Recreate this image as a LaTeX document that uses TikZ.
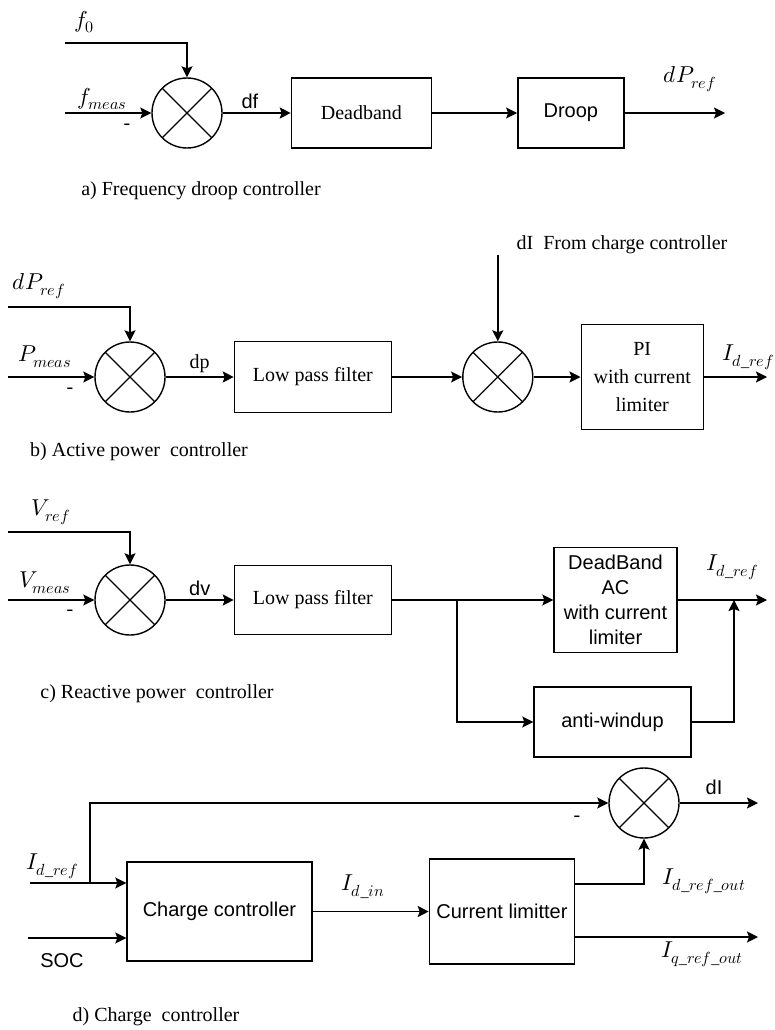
\documentclass[tikz,border=0pt]{standalone}
\usepackage{fontspec}
\usepackage{unicode-math}
\setmainfont{Liberation Serif}
\setsansfont{Liberation Sans}
\setmathfont{Latin Modern Math}
\usetikzlibrary{positioning,arrows.meta,calc}

\begin{document}
\begin{tikzpicture}[x=1pt, y=-1pt, line width=1.4pt,
    every node/.style={font=\fontsize{20}{26}\selectfont, align=center},
    box/.style={draw, minimum height=70pt, minimum width=140pt, inner sep=2pt},
    sfbox/.style={box, font=\fontsize{20}{25}\selectfont\sffamily},
    sflbl/.style={font=\fontsize{20}{24}\selectfont\sffamily},
    mlbl/.style={font=\fontsize{23}{28}\selectfont},
    sumjn/.style={draw, circle, minimum size=70pt, inner sep=0pt,
      path picture={\draw[line width=1.2pt] (path picture bounding box.north west) -- (path picture bounding box.south east)
        (path picture bounding box.north east) -- (path picture bounding box.south west);}},
    sig/.style={-{Stealth[length=11pt, width=11pt, inset=2pt]}}]
  \useasboundingbox (0,0) rectangle (774,1030);

  % a) frequency droop
  \node[sumjn] (suma) at (187,113) {};
  \node[box, right=68pt of suma] (dband) {Deadband};
  \node[sfbox, minimum width=106pt, right=85pt of dband] (droop) {Droop};
  \coordinate (fzin) at (65,43);
  \coordinate (fmin) at (65,113);
  \coordinate (dpout) at (725,113);
  \node[mlbl] (lfz) at (84,22) {$f_0$};
  \node[mlbl] (lfm) at (102,99) {$f_{meas}$};
  \node (mina) at (127,127) {-};
  \node[mlbl] (ldp) at (690,79) {$dP_{ref}$};
  \draw[sig] (fzin) -| (suma.north);
  \draw[sig] (fmin) -- (suma.west);
  \draw[sig] (suma) -- node[sflbl, above, pos=.4] (ldf) {df} (dband);
  \draw[sig] (dband) -- (droop);
  \draw[sig] (droop) -- (dpout);
  \node (capa) at (201,191) {a) Frequency droop controller};

  % b) active power
  \node[sumjn] (sumb) at (130,377) {};
  \node[box, minimum width=157pt, minimum height=71pt, right=68pt of sumb] (lpfb) {Low pass filter};
  \node[sumjn, right=70pt of lpfb] (sumc) {};
  \node[box, minimum width=122pt, minimum height=105pt, right=47pt of sumc, font=\fontsize{20}{28}\selectfont] (pi) {PI\\with current\\limiter};
  \coordinate (dprin) at (8,307);
  \coordinate (pmin) at (8,377);
  \coordinate (dIin) at (sumc |- 0,255);
  \coordinate (idbout) at (767,377);
  \node[mlbl] (ldpr) at (39,286) {$dP_{ref}$};
  \node[mlbl] (lpm) at (45,357) {$P_{meas}$};
  \node (minb) at (70,391) {-};
  \node (ldIc) at (622,245) {dI\ \ From charge controller};
  \node[mlbl] (lidb) at (748,357) {$I_{d\_ref}$};
  \draw[sig] (dprin) -| (sumb.north);
  \draw[sig] (pmin) -- (sumb.west);
  \draw[sig] (sumb) -- node[above, pos=.5] (ldpp) {dp} (lpfb);
  \draw[sig] (lpfb) -- (sumc);
  \draw[sig] (dIin) -- (sumc.north);
  \draw[sig] (sumc) -- (pi);
  \draw[sig] (pi) -- (idbout);
  \node (capb) at (139,452) {b) Active power\ \ controller};

  % c) reactive power
  \node[sumjn] (sumd) at (130,600) {};
  \node[box, minimum width=157pt, minimum height=69pt, right=68pt of sumd] (lpfc) {Low pass filter};
  \node[sfbox, minimum width=123pt, minimum height=105pt, inner sep=1pt] (dbac) at (615.5,600) {DeadBand\\AC\\with current\\limiter};
  \node[sfbox, minimum width=157pt] (aw) at (612.5,722) {anti-windup};
  \coordinate (vrin) at (8,532);
  \coordinate (vmin) at (8,600);
  \coordinate (brc) at (457,600);
  \coordinate (jc) at (734,600);
  \coordinate (idcout) at (767,600);
  \node[mlbl] (lvr) at (51,512) {$V_{ref}$};
  \node[mlbl] (lvm) at (45,583) {$V_{meas}$};
  \node (minc) at (70,613) {-};
  \node[mlbl] (lidc) at (732,567) {$I_{d\_ref}$};
  \draw[sig] (vrin) -| (sumd.north);
  \draw[sig] (vmin) -- (sumd.west);
  \draw[sig] (sumd) -- node[sflbl, above, pos=.5] (ldv) {dv} (lpfc);
  \draw[sig] (lpfc) -- (dbac);
  \draw[sig] (brc) |- (aw);
  \draw[sig] (aw) -| (jc);
  \draw[sig] (dbac) -- (idcout);
  \node (capc) at (157,694) {c) Reactive power\ \ controller};

  % d) charge controller
  \node[sumjn] (sume) at (644,803) {};
  \node[sfbox, minimum width=185pt, minimum height=99pt] (cc) at (219.5,911.5) {Charge controller};
  \node[sfbox, minimum width=145pt, minimum height=105pt, right=116pt of cc] (cl) {Current limitter};
  \coordinate (idin) at (30,883);
  \coordinate (brd) at (90,883);
  \coordinate (socin) at (28,938);
  \coordinate (clod) at (cl.east |- 0,884);
  \coordinate (iqo) at (758,937);
  \coordinate (dIout) at (758,803);
  \node[mlbl] (lidd) at (52,866) {$I_{d\_ref}$};
  \node[sflbl] (lsoc) at (62,961) {SOC};
  \node[mlbl] (lidin) at (363,887) {$I_{d\_in}$};
  \node (mind) at (577,819) {-};
  \node[sflbl] (ldI) at (714,787) {dI};
  \node[mlbl] (lidro) at (704,881) {$I_{d\_ref\_out}$};
  \node[mlbl] (liqro) at (702,954) {$I_{q\_ref\_out}$};
  \draw[sig] (idin) -- (idin -| cc.west);
  \draw[sig] (brd) |- (sume);
  \draw[sig] (socin) -- (socin -| cc.west);
  \draw[sig] (cc) -- (cl);
  \draw[sig] (clod) -| (sume);
  \draw[sig] (iqo -| cl.east) -- (iqo);
  \draw[sig] (sume) -- (dIout);
  \node (capd) at (156,1017) {d) Charge\ \ controller};
\end{tikzpicture}
\end{document}
